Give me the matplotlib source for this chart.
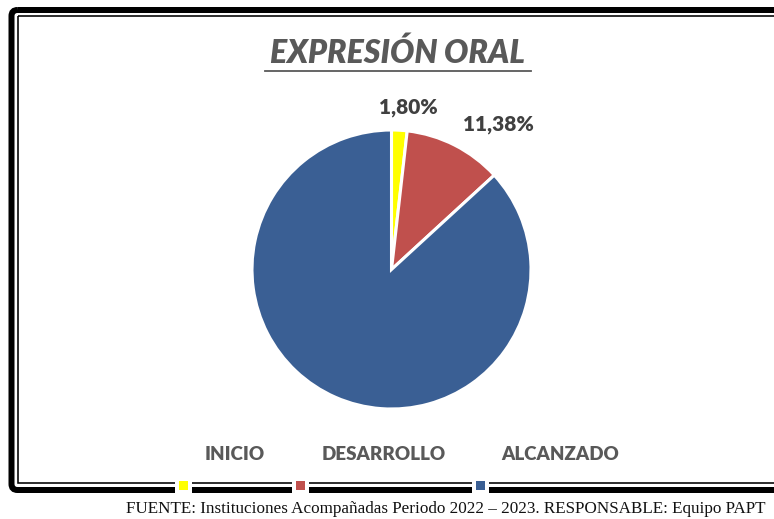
import numpy as np
import matplotlib.pyplot as plt
from matplotlib.patches import FancyBboxPatch, Rectangle

# data
categories = ['INICIO', 'DESARROLLO', 'ALCANZADO']
values = [1.80, 11.38, 86.82]
labels = ['1,80%', '11,38%', '']
colors = ['#FFFF00', '#C0504D', '#3A5F94']

title = 'EXPRESIÓN ORAL'
footer = 'FUENTE: Instituciones Acompañadas Periodo 2022 – 2023. RESPONSABLE: Equipo PAPT'

W, H = 774, 519
fig = plt.figure(figsize=(W / 100, H / 100), dpi=100)

# overlay in pixel coords for frame, title, legend, footer
bg = fig.add_axes([0, 0, 1, 1])
bg.set_xlim(0, W)
bg.set_ylim(H, 0)
bg.axis('off')

# double frame (outer thick rounded, inner thin)
outer = FancyBboxPatch((11.5, 10), 800, 480, boxstyle='round,pad=0,rounding_size=6',
                       fill=False, ec='black', lw=6 * 0.72)
bg.add_patch(outer)
inner = Rectangle((18, 15.5), 800, 467.5, fill=False, ec='black', lw=1.6 * 0.72)
bg.add_patch(inner)

bg.text(397.5, 53, title, ha='center', va='center', fontsize=23, fontweight='heavy',
        style='italic', color='#595959', family='Lato')
bg.plot([265, 531], [71, 71], color='#595959', lw=1.3)

# legend: names above, colour keys sitting on the bottom frame
leg_text_x = [235, 384, 560]
leg_key_x = [183.5, 300, 480]
for name, tx, kx, c in zip(categories, leg_text_x, leg_key_x, colors):
    bg.text(tx, 454, name, ha='center', va='center', fontsize=13.5, fontweight='heavy',
            color='#595959', family='Lato')
    bg.add_patch(Rectangle((kx - 8.5, 478), 17, 18, fc='white', ec='none', zorder=5))
    bg.add_patch(Rectangle((kx - 4.5, 481), 9, 9, fc=c, ec='none', zorder=6))

bg.text(445.5, 509, footer, ha='center', va='center', fontsize=12.3, color='#111111',
        family='Liberation Serif')

# pie
cx, cy, r = 391.5, 269.5, 139.5
ax = fig.add_axes([(cx - r) / W, (H - cy - r) / H, 2 * r / W, 2 * r / H])
wedges, _ = ax.pie(values, colors=colors, startangle=90, counterclock=False,
                   wedgeprops=dict(edgecolor='white', linewidth=2.2))
ax.set_xlim(-1, 1)
ax.set_ylim(-1, 1)
ax.set_aspect('equal')

label_rad = [1.17, 1.29, 1.2]
label_shift = [-2.8, -9.6, 0]
for w, lab, lr, sh in zip(wedges, labels, label_rad, label_shift):
    if not lab:
        continue
    ang = np.deg2rad((w.theta1 + w.theta2) / 2 + sh)
    ax.text(lr * np.cos(ang), lr * np.sin(ang), lab, ha='center', va='center',
            fontsize=15, fontweight='heavy', color='#404040', family='Lato', clip_on=False)

fig.savefig('out.png', dpi=100)
